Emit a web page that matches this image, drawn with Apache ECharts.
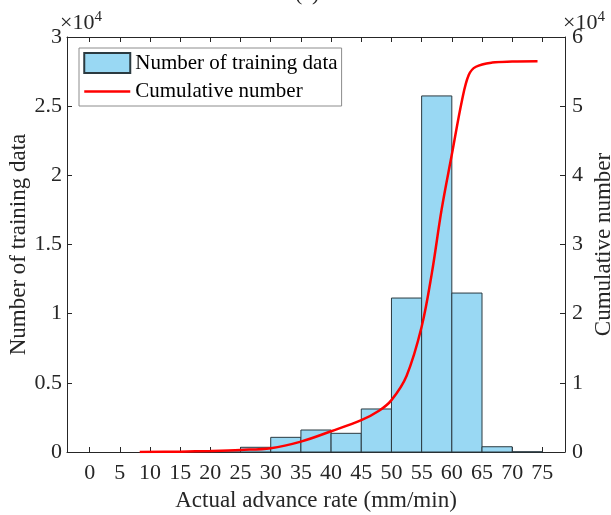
<!DOCTYPE html>
<html>
<head>
<meta charset="utf-8">
<script src="https://cdn.jsdelivr.net/npm/echarts@6/dist/echarts.min.js"></script>
<style>html,body{margin:0;padding:0;background:#fff}#c{width:611px;height:515px}</style>
</head>
<body>
<div id="c"></div>
<script>
// Histogram bins (mm/min)
const binStart = [10, 15, 20, 25, 30, 35, 40, 45, 50, 55, 60, 65, 70];
const binEnd   = [15, 20, 25, 30, 35, 40, 45, 50, 55, 60, 65, 70, 75];
const counts   = [20, 30, 100, 340, 1060, 1590, 1350, 3110, 11130, 25740, 11490, 380, 15];
// Cumulative curve
const cumX = [8.3, 15, 20, 25, 30, 35, 40, 45, 48, 50, 52.5, 55, 56.7, 58.3, 60, 61.7, 62.8, 64, 66.7, 70, 74.2];
const cumY = [0, 50, 150, 300, 550, 1500, 3000, 4600, 6000, 7500, 11000, 18100, 25900, 35000, 43000, 50900, 54500, 55700, 56300, 56450, 56500];
const xTicks = [0, 5, 10, 15, 20, 25, 30, 35, 40, 45, 50, 55, 60, 65, 70, 75];

const font = 'Liberation Serif';
const txt = '#262626';
const chart = echarts.init(document.getElementById('c'));
const barData = binStart.map((s, i) => [s, binEnd[i], counts[i]]);
const lineData = cumX.map((x, i) => [x, cumY[i]]);
const expRich = { a: { fontFamily: font, fontSize: 22, fill: txt }, s: { fontFamily: font, fontSize: 15, fill: txt, verticalAlign: 'top', padding: [0, 0, 11, 0] } };

chart.setOption({
  animation: false,
  textStyle: { fontFamily: font },
  grid: { left: 67, right: 46, top: 37, bottom: 63, containLabel: false, outerBoundsMode: 'none' },
  legend: {
    left: 79, top: 48, orient: 'vertical',
    itemWidth: 46, itemHeight: 20, itemGap: 7, padding: 4,
    borderColor: '#8c8c8c', borderWidth: 1, backgroundColor: '#fff',
    textStyle: { fontFamily: font, fontSize: 21, color: '#000' },
    data: [
      { name: 'Number of training data', icon: 'rect' },
      { name: 'Cumulative number', itemStyle: { opacity: 0 }, lineStyle: { color: '#ff0000', width: 2.5 } }
    ]
  },
  xAxis: [{
    type: 'value', min: -3.75, max: 78.75, position: 'bottom',
    name: 'Actual advance rate (mm/min)', nameLocation: 'middle', nameGap: 37, nameMoveOverlap: false,
    nameTextStyle: { fontFamily: font, fontSize: 23, color: txt },
    axisLine: { show: true, onZero: false, lineStyle: { color: txt, width: 1 } },
    axisTick: { show: true, inside: true, length: 5, customValues: xTicks, lineStyle: { color: txt } },
    axisLabel: { customValues: xTicks, fontFamily: font, fontSize: 22, color: txt, margin: 10 },
    splitLine: { show: false }
  }, {
    type: 'value', min: -3.75, max: 78.75, position: 'top',
    axisLine: { show: true, onZero: false, lineStyle: { color: txt, width: 1 } },
    axisTick: { show: true, inside: true, length: 5, customValues: xTicks, lineStyle: { color: txt } },
    axisLabel: { show: false },
    splitLine: { show: false }
  }],
  yAxis: [{
    type: 'value', min: 0, max: 30000, interval: 5000, position: 'left',
    name: 'Number of training data', nameLocation: 'middle', nameGap: 37, nameMoveOverlap: false,
    nameTextStyle: { fontFamily: font, fontSize: 23, color: txt },
    axisLine: { show: true, onZero: false, lineStyle: { color: txt, width: 1 } },
    axisTick: { show: true, inside: true, length: 5, lineStyle: { color: txt } },
    axisLabel: { fontFamily: font, fontSize: 22, color: txt, margin: 5, formatter: v => String(v / 10000) },
    splitLine: { show: false }
  }, {
    type: 'value', min: 0, max: 60000, interval: 10000, position: 'right',
    name: 'Cumulative number', nameLocation: 'middle', nameGap: 27, nameRotate: 90, nameMoveOverlap: false,
    nameTextStyle: { fontFamily: font, fontSize: 23, color: txt },
    axisLine: { show: true, onZero: false, lineStyle: { color: txt, width: 1 } },
    axisTick: { show: true, inside: true, length: 5, lineStyle: { color: txt } },
    axisLabel: { fontFamily: font, fontSize: 22, color: txt, margin: 7, formatter: v => String(v / 10000) },
    splitLine: { show: false }
  }],
  graphic: [
    { type: 'text', left: 60, top: 10, style: { rich: expRich, text: '{a|×10}{s|4}' } },
    { type: 'text', left: 563, top: 10, style: { rich: expRich, text: '{a|×10}{s|4}' } },
    { type: 'text', left: 295, top: -17, style: { text: '(c)', fontFamily: font, fontSize: 22, fill: txt } }
  ],
  series: [{
    name: 'Number of training data',
    type: 'custom', xAxisIndex: 0, yAxisIndex: 0,
    itemStyle: { color: '#99d8f3', borderColor: '#2b3a40', borderWidth: 1 },
    encode: { x: [0, 1], y: 2 },
    renderItem: function (params, api) {
      const p0 = api.coord([api.value(0), api.value(2)]);
      const p1 = api.coord([api.value(1), 0]);
      return {
        type: 'rect',
        shape: { x: p0[0], y: p0[1], width: p1[0] - p0[0], height: p1[1] - p0[1] },
        style: { fill: '#99d8f3', stroke: '#2b3a40', lineWidth: 1 }
      };
    },
    data: barData,
    z: 2
  }, {
    name: 'Cumulative number',
    type: 'line', xAxisIndex: 0, yAxisIndex: 1,
    data: lineData, smooth: 0.35, symbol: 'none',
    lineStyle: { color: '#ff0000', width: 2.5 },
    itemStyle: { color: '#ff0000' },
    z: 3
  }]
});
</script>
</body>
</html>
